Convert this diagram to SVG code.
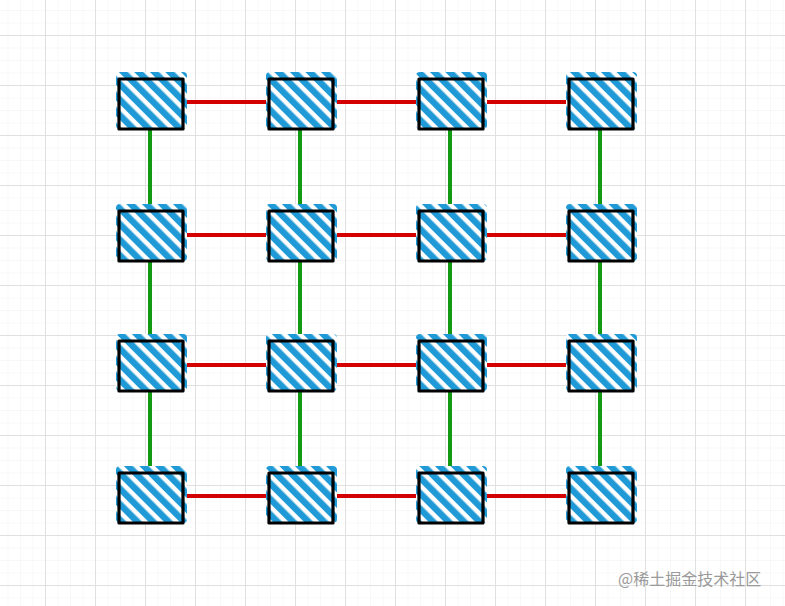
<svg xmlns="http://www.w3.org/2000/svg" width="785" height="606" viewBox="0 0 785 606">
<defs>
<pattern id="minor" width="12.5" height="12.5" patternUnits="userSpaceOnUse" x="45" y="35">
<path d="M0 0V12.5M0 0H12.5" fill="none" stroke="#f1f1f1" stroke-width="1"/>
</pattern>
<pattern id="major" width="50" height="50" patternUnits="userSpaceOnUse" x="45" y="35">
<path d="M0.5 0V50M0 0.5H50" fill="none" stroke="#e0e0e0" stroke-width="1"/>
</pattern>
<pattern id="hatch" width="11" height="11" patternUnits="userSpaceOnUse" patternTransform="rotate(-45)">
<rect x="0" y="0" width="11" height="11" fill="#ffffff"/>
<rect x="0" y="0" width="6.5" height="11" fill="#1f9ad6"/>
</pattern>
<style>
.h{stroke:#d40000;stroke-width:4;fill:none}
.v{stroke:#139a13;stroke-width:4;fill:none}
.fill{fill:url(#hatch)}
.box{fill:none;stroke:#000;stroke-width:3.2;stroke-linejoin:round}
.wm{font-family:"Noto Sans CJK SC","Noto Sans",sans-serif;font-size:16px;fill:#9a9a9a}
</style>
</defs>
<rect width="785" height="606" fill="#fff"/>
<rect width="785" height="606" fill="url(#minor)"/>
<rect width="785" height="606" fill="url(#major)"/>
<g id="connectors">
<path class="h" d="M183 102H268M333 102H418M483 102H568"/>
<path class="h" d="M183 235H268M333 235H418M483 235H568"/>
<path class="h" d="M183 365H268M333 365H418M483 365H568"/>
<path class="h" d="M183 496H268M333 496H418M483 496H568"/>
<path class="v" d="M150 129V210M150 261V340M150 391V472"/>
<path class="v" d="M300 129V210M300 261V340M300 391V472"/>
<path class="v" d="M450 129V210M450 261V340M450 391V472"/>
<path class="v" d="M600 129V210M600 261V340M600 391V472"/>
</g>
<g id="n11"><rect class="fill" x="116" y="72" width="71" height="57" rx="4"/><rect class="box" x="119" y="79" width="64" height="50"/></g>
<g id="n12"><rect class="fill" x="266" y="72" width="71" height="57" rx="4"/><rect class="box" x="269" y="79" width="64" height="50"/></g>
<g id="n13"><rect class="fill" x="416" y="72" width="71" height="57" rx="4"/><rect class="box" x="419" y="79" width="64" height="50"/></g>
<g id="n14"><rect class="fill" x="566" y="72" width="71" height="57" rx="4"/><rect class="box" x="569" y="79" width="64" height="50"/></g>
<g id="n21"><rect class="fill" x="116" y="204" width="71" height="57" rx="4"/><rect class="box" x="119" y="211" width="64" height="50"/></g>
<g id="n22"><rect class="fill" x="266" y="204" width="71" height="57" rx="4"/><rect class="box" x="269" y="211" width="64" height="50"/></g>
<g id="n23"><rect class="fill" x="416" y="204" width="71" height="57" rx="4"/><rect class="box" x="419" y="211" width="64" height="50"/></g>
<g id="n24"><rect class="fill" x="566" y="204" width="71" height="57" rx="4"/><rect class="box" x="569" y="211" width="64" height="50"/></g>
<g id="n31"><rect class="fill" x="116" y="334" width="71" height="57" rx="4"/><rect class="box" x="119" y="341" width="64" height="50"/></g>
<g id="n32"><rect class="fill" x="266" y="334" width="71" height="57" rx="4"/><rect class="box" x="269" y="341" width="64" height="50"/></g>
<g id="n33"><rect class="fill" x="416" y="334" width="71" height="57" rx="4"/><rect class="box" x="419" y="341" width="64" height="50"/></g>
<g id="n34"><rect class="fill" x="566" y="334" width="71" height="57" rx="4"/><rect class="box" x="569" y="341" width="64" height="50"/></g>
<g id="n41"><rect class="fill" x="116" y="466" width="71" height="57" rx="4"/><rect class="box" x="119" y="473" width="64" height="50"/></g>
<g id="n42"><rect class="fill" x="266" y="466" width="71" height="57" rx="4"/><rect class="box" x="269" y="473" width="64" height="50"/></g>
<g id="n43"><rect class="fill" x="416" y="466" width="71" height="57" rx="4"/><rect class="box" x="419" y="473" width="64" height="50"/></g>
<g id="n44"><rect class="fill" x="566" y="466" width="71" height="57" rx="4"/><rect class="box" x="569" y="473" width="64" height="50"/></g>
<text class="wm" x="618" y="585">@稀土掘金技术社区</text>
</svg>
